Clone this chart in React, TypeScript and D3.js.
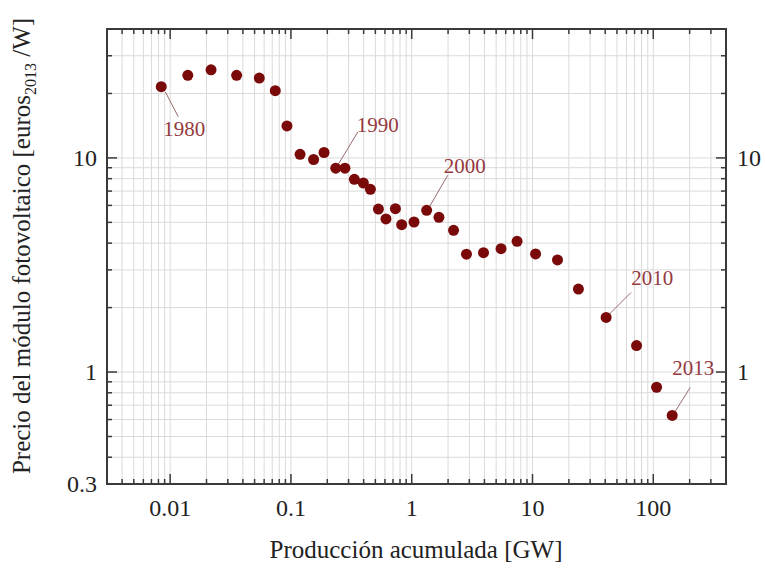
import React from 'react';
import * as d3 from 'd3';

// one point per year, 1980 .. 2013
const years = [1980, 1981, 1982, 1983, 1984, 1985, 1986, 1987, 1988, 1989, 1990, 1991, 1992, 1993, 1994, 1995, 1996, 1997, 1998, 1999, 2000, 2001, 2002, 2003, 2004, 2005, 2006, 2007, 2008, 2009, 2010, 2011, 2012, 2013];
const production = [0.00844, 0.014, 0.0218, 0.0355, 0.0547, 0.0742, 0.0927, 0.119, 0.154, 0.188, 0.235, 0.28, 0.335, 0.398, 0.455, 0.53, 0.612, 0.733, 0.826, 1.045, 1.33, 1.68, 2.22, 2.84, 3.93, 5.49, 7.45, 10.6, 16.1, 24.0, 40.7, 72.7, 106.5, 143.4];
const price = [21.5, 24.3, 25.8, 24.3, 23.6, 20.6, 14.1, 10.4, 9.83, 10.6, 8.96, 8.96, 7.94, 7.63, 7.13, 5.77, 5.19, 5.79, 4.88, 5.02, 5.69, 5.28, 4.59, 3.55, 3.61, 3.77, 4.08, 3.56, 3.34, 2.44, 1.8, 1.33, 0.849, 0.627];

const labelledYears = [1980, 1990, 2000, 2010, 2013];

const xTicks = [0.01, 0.1, 1, 10, 100];
const xTickLabels = ['0.01', '0.1', '1', '10', '100'];
const yTicksLeft = [0.3, 1, 10];
const yTickLabelsLeft = ['0.3', '1', '10'];
const yTicksRight = [1, 10];
const yTickLabelsRight = ['1', '10'];

// leader line [x1, y1, x2, y2] and text anchor [dx, dy], relative to the point
const callouts = [
  { line: [4, 5, 17, 30], text: [2, 49] },
  { line: [2, -3, 22, -36], text: [21, -36] },
  { line: [3, -4, 21, -35], text: [17, -37] },
  { line: [3, -3, 25, -25], text: [25, -32] },
  { line: [3, -4, 18, -28], text: [0, -40] },
];

const W = 765;
const H = 569;
const margin = { top: 29, right: 39, bottom: 85, left: 107 };

const minorValues = (lo: number, hi: number) => {
  const out: number[] = [];
  for (let e = Math.floor(Math.log10(lo)); e <= Math.ceil(Math.log10(hi)); e++) {
    for (let m = 1; m <= 9; m++) {
      const v = m * Math.pow(10, e);
      if (v >= lo * 0.999 && v <= hi * 1.001) out.push(+v.toPrecision(3));
    }
  }
  return out;
};

export default function App() {
  const x = d3.scaleLog().domain([0.003, 400]).range([margin.left, W - margin.right]);
  const y = d3.scaleLog().domain([0.3, 40]).range([H - margin.bottom, margin.top]);
  const [x0, x1] = x.range();
  const [y0, y1] = y.range();

  const xMinor = minorValues(0.003, 400);
  const yMinor = minorValues(0.3, 40);
  const isMajor = (v: number) => Math.abs(Math.log10(v) - Math.round(Math.log10(v))) < 1e-6;

  const grid = '#dadada';
  const axis = '#3a3a3a';
  const dot = '#7a0a0a';
  const note = '#943a40';

  return (
    <svg width={W} height={H} style={{ position: 'absolute', left: 0, top: 0, background: '#fff', fontFamily: "'Liberation Serif', 'Times New Roman', serif" }}>
      {/* grid */}
      <g stroke={grid} strokeWidth={1}>
        {xMinor.filter(v => x(v) > x0 + 1 && x(v) < x1 - 1).map(v => (
          <line key={'gx' + v} x1={x(v)} x2={x(v)} y1={y1} y2={y0} />
        ))}
        {yMinor.filter(v => y(v) < y0 - 1 && y(v) > y1 + 1).map(v => (
          <line key={'gy' + v} x1={x0} x2={x1} y1={y(v)} y2={y(v)} />
        ))}
      </g>

      {/* ticks, inward on all four sides */}
      <g stroke={axis} strokeWidth={1.5}>
        {xMinor.filter(v => x(v) > x0 + 1 && x(v) < x1 - 1).map(v => {
          const len = isMajor(v) ? 10 : 5;
          return (
            <g key={'tx' + v}>
              <line x1={x(v)} x2={x(v)} y1={y0} y2={y0 - len} />
              <line x1={x(v)} x2={x(v)} y1={y1} y2={y1 + len} />
            </g>
          );
        })}
        {yMinor.filter(v => y(v) < y0 - 1 && y(v) > y1 + 1).map(v => {
          const len = isMajor(v) ? 10 : 5;
          return (
            <g key={'ty' + v}>
              <line x1={x0} x2={x0 + len} y1={y(v)} y2={y(v)} />
              <line x1={x1} x2={x1 - len} y1={y(v)} y2={y(v)} />
            </g>
          );
        })}
      </g>

      <rect x={x0} y={y1} width={x1 - x0} height={y0 - y1} fill="none" stroke={axis} strokeWidth={2} />

      {/* tick labels */}
      <g fontSize={24} fill="#222">
        {xTicks.map((v, i) => (
          <text key={'lx' + v} x={x(v)} y={y0 + 32} textAnchor="middle">{xTickLabels[i]}</text>
        ))}
        {yTicksLeft.map((v, i) => (
          <text key={'ly' + v} x={x0 - 10} y={y(v) + 8} textAnchor="end">{yTickLabelsLeft[i]}</text>
        ))}
        {yTicksRight.map((v, i) => (
          <text key={'ry' + v} x={x1 + 11} y={y(v) + 8} textAnchor="start">{yTickLabelsRight[i]}</text>
        ))}
      </g>

      {/* axis titles */}
      <text x={416} y={558} fontSize={25} textAnchor="middle" fill="#222">Producción acumulada [GW]</text>
      <text transform="translate(30,246) rotate(-90)" fontSize={25} textAnchor="middle" fill="#222">
        Precio del módulo fotovoltaico [euros
        <tspan fontSize={16} dy={6}>2013</tspan>
        <tspan dy={-6}> /W]</tspan>
      </text>

      {/* callouts */}
      {labelledYears.map((yr, k) => {
        const i = years.indexOf(yr);
        const px = x(production[i]);
        const py = y(price[i]);
        const c = callouts[k];
        return (
          <g key={'c' + yr}>
            <line x1={px + c.line[0]} y1={py + c.line[1]} x2={px + c.line[2]} y2={py + c.line[3]} stroke="#9a6a6c" strokeWidth={1} />
            <text x={px + c.text[0]} y={py + c.text[1]} fontSize={21} fill={note}>{yr}</text>
          </g>
        );
      })}

      {/* points */}
      <g fill={dot}>
        {production.map((p, i) => (
          <circle key={'p' + i} cx={x(p)} cy={y(price[i])} r={5.5} />
        ))}
      </g>
    </svg>
  );
}
